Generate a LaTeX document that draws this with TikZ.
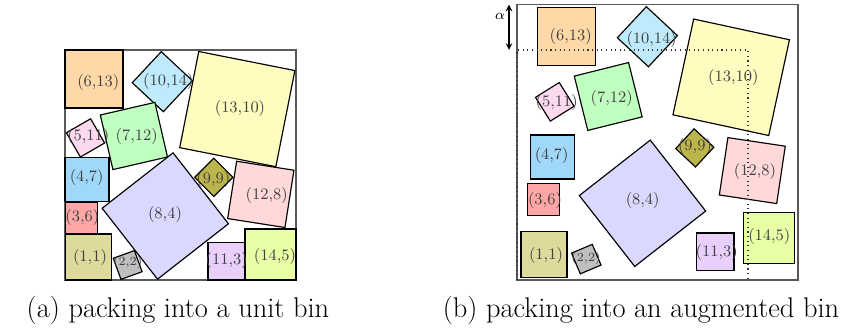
\documentclass[tikz,border=0pt]{standalone}
\usepackage{tikz}
\usetikzlibrary{arrows}

\definecolor{peach}{HTML}{FFD8A8}
\definecolor{skyblue}{HTML}{A0D8FA}
\definecolor{lilac}{HTML}{E9CFFB}

\tikzset{
  tile/.style={draw=black, line width=0.65pt},
  tag/.style={text=black!75, font=\small, inner sep=0pt},
  binframe/.style={draw=black!65, line width=0.8pt},
  unitline/.style={draw=black!80, dotted, line width=0.6pt},
  caption/.style={font=\fontsize{16}{19}\selectfont, inner sep=0pt},
}

% centre x, centre y, side, angle, colour
\newcommand{\packtile}[5]{%
  \filldraw[tile, fill=#5, shift={(#1,#2)}, rotate=#4]
    (-#3/2,-#3/2) -- (#3/2,-#3/2) -- (#3/2,#3/2) -- (-#3/2,#3/2) -- cycle;}

\begin{document}
\begin{tikzpicture}[x=0.5625pt, y=-0.5625pt]
  \useasboundingbox (0,0) rectangle (867,336);

  % (a) unit bin
  \draw[binframe, fill=white] (65,50) rectangle (296,280);
  \packtile{94}{79}{58}{0}{peach}
  \packtile{162.3}{81.7}{42.5}{47}{cyan!25}
  \packtile{237.3}{109.1}{98}{-11.2}{yellow!25}
  \packtile{133.9}{136}{56}{13}{green!25}
  \packtile{85.5}{137.9}{28}{30}{magenta!15}
  \packtile{87}{179.7}{44}{0}{skyblue}
  \packtile{81.8}{218.2}{32}{0}{red!35}
  \packtile{88.3}{257}{46}{0}{olive!30}
  \packtile{127.7}{265}{22.5}{20}{gray!50}
  \packtile{165.3}{216}{90}{38}{blue!15}
  \packtile{213.8}{177.3}{27}{45}{olive!60}
  \packtile{260.8}{194.4}{58}{-8.9}{red!15}
  \packtile{226.7}{261.2}{37.5}{0}{lilac}
  \packtile{270.5}{254.5}{51}{0}{lime!35}

  \node[tag] (a613) at (98.3,82.3) {(6,13)};
  \node[tag] (a1014) at (168.3,81.7) {(10,14)};
  \node[tag] (a1310) at (240,108.3) {(13,10)};
  \node[tag] (a712) at (136.7,136.7) {(7,12)};
  \node[tag] (a511) at (88.3,136.7) {(5,11)};
  \node[tag] (a47) at (86.7,177.3) {(4,7)};
  \node[tag] (a36) at (82.3,217.7) {(3,6)};
  \node[tag] (a11) at (90,257.3) {(1,1)};
  \node[tag, font=\scriptsize] (a22) at (127.7,262.7) {(2,2)};
  \node[tag] (a84) at (165,214) {(8,4)};
  \node[tag] (a99) at (213.3,179.3) {(9,9)};
  \node[tag] (a128) at (266.7,195) {(12,8)};
  \node[tag] (a113) at (226.7,260) {(11,3)};
  \node[tag] (a145) at (275,256.7) {(14,5)};

  % (b) augmented bin
  \draw[binframe, fill=white] (517,4.7) rectangle (798,280);
  \packtile{566.2}{36.5}{58}{0}{peach}
  \packtile{647.4}{36.7}{42.5}{47}{cyan!25}
  \packtile{731.2}{77.3}{98}{-12.2}{yellow!25}
  \packtile{608.2}{96.5}{56}{14}{green!25}
  \packtile{554.8}{101.8}{28}{32}{magenta!15}
  \packtile{552.5}{157}{44}{0}{skyblue}
  \packtile{543.8}{199.8}{32}{0}{red!35}
  \packtile{544}{254.2}{46}{0}{olive!30}
  \packtile{586.3}{259.1}{22.5}{23}{gray!50}
  \packtile{642.5}{203.3}{90}{38}{blue!15}
  \packtile{694.8}{147.9}{27}{47}{olive!60}
  \packtile{752.3}{170.6}{58}{-8.5}{red!15}
  \packtile{715.3}{251.7}{37.5}{0}{lilac}
  \packtile{768.8}{238}{51}{0}{lime!35}

  \node[tag] (b613) at (570.7,36.7) {(6,13)};
  \node[tag] (b1014) at (651.7,39.3) {(10,14)};
  \node[tag] (b1310) at (733.3,77.3) {(13,10)};
  \node[tag] (b712) at (611.7,98.3) {(7,12)};
  \node[tag] (b511) at (556.7,102.7) {(5,11)};
  \node[tag] (b47) at (551.7,155) {(4,7)};
  \node[tag] (b36) at (545,200) {(3,6)};
  \node[tag] (b11) at (546,255) {(1,1)};
  \node[tag, font=\scriptsize] (b22) at (586,258.3) {(2,2)};
  \node[tag] (b84) at (642.7,200) {(8,4)};
  \node[tag] (b99) at (695,146.7) {(9,9)};
  \node[tag] (b128) at (755,171.7) {(12,8)};
  \node[tag] (b113) at (716.7,252.3) {(11,3)};
  \node[tag] (b145) at (769.3,236.7) {(14,5)};

  \draw[unitline] (517,280) -- (517,50) -- (748,50) -- (748,280);

  \coordinate (atop) at (509,4.7);
  \coordinate (abot) at (509,50);
  \draw[<->, >=stealth, line width=0.7pt] (atop) -- (abot);
  \node[font=\footnotesize] (alpha) at (500,16) {$\alpha$};

  % captions
  \node[caption] (capa) at (178,310) {(a) packing into a unit bin};
  \node[caption] (capb) at (641,310) {(b) packing into an augmented bin};
\end{tikzpicture}
\end{document}
